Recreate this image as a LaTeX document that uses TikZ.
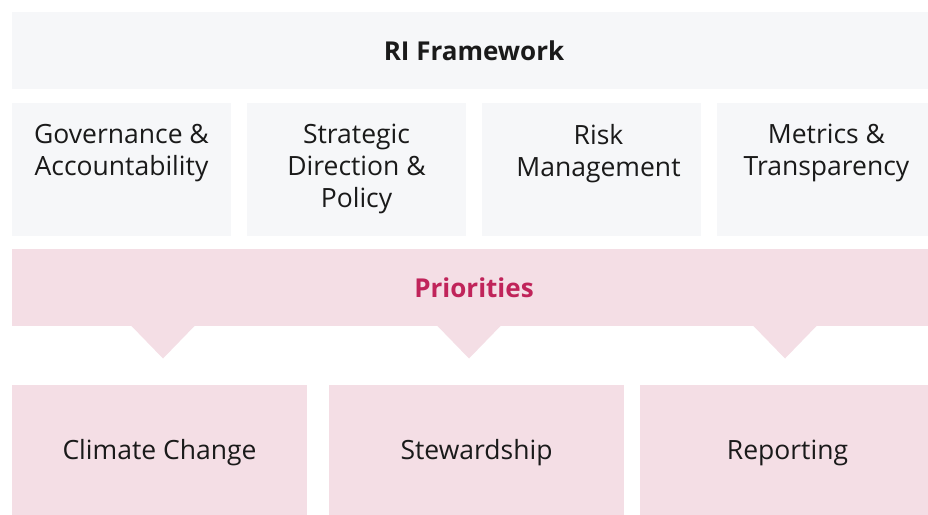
\documentclass[tikz,border=0pt]{standalone}
\usepackage{fontspec}
\setmainfont{Open Sans}
\usetikzlibrary{positioning}
\definecolor{boxgray}{HTML}{F6F7F9}
\definecolor{prioritypink}{HTML}{F4DEE5}
\definecolor{prioritytext}{HTML}{C0245A}
\definecolor{textblack}{HTML}{1A1A1A}

\begin{document}
\begin{tikzpicture}[x=1pt,y=-1pt,
  graybox/.style={fill=boxgray, inner sep=0pt, minimum width=219pt, minimum height=133pt},
  pinkbox/.style={fill=prioritypink, inner sep=0pt, minimum width=295pt, minimum height=136pt,
    text=textblack, font=\fontsize{26.5}{32}\selectfont},
  boxtext/.style={align=center, inner sep=0pt, text=textblack, font=\fontsize{26.5}{32}\selectfont}]
\useasboundingbox (0,0) rectangle (928,514);
\clip (0,0) rectangle (928,514);
% framework header
\node[fill=boxgray, minimum width=924pt, minimum height=77pt, inner sep=0pt,
  font=\fontsize{26}{32}\selectfont\bfseries, text=textblack] (framework) at (474,50.5) {RI Framework};
% the four pillars
\node[graybox] (gov) at (121.5,169.5) {};
\node[graybox] (strategy) at (356.5,169.5) {};
\node[graybox] (risk) at (591.5,169.5) {};
\node[graybox] (metrics) at (826.5,169.5) {};
\node[boxtext, below=21pt of gov.north] (govtext) {Governance \&\\Accountability};
\node[boxtext, below=21pt of strategy.north] (strategytext) {Strategic\\Direction \&\\Policy};
\node[boxtext, below=21pt of risk.north, xshift=7pt] (risktext) {Risk\\Management};
\node[boxtext, below=21pt of metrics.north] (metricstext) {Metrics \&\\Transparency};
% priorities band with its pointers
\node[fill=prioritypink, minimum width=924pt, minimum height=77pt, inner sep=0pt,
  font=\fontsize{26}{32}\selectfont\bfseries, text=prioritytext] (priorities) at (474,287.5) {Priorities};
\fill[prioritypink] (130.5,325) -- (163,358.5) -- (195.5,325) -- cycle;
\fill[prioritypink] (436.5,325) -- (469,358.5) -- (501.5,325) -- cycle;
\fill[prioritypink] (752.5,325) -- (785,358.5) -- (817.5,325) -- cycle;
% priority areas
\node[pinkbox] (climate) at (159.5,453) {Climate Change};
\node[pinkbox] (stewardship) at (476.5,453) {Stewardship};
\node[pinkbox] (reporting) at (787.5,453) {Reporting};
\end{tikzpicture}
\end{document}
